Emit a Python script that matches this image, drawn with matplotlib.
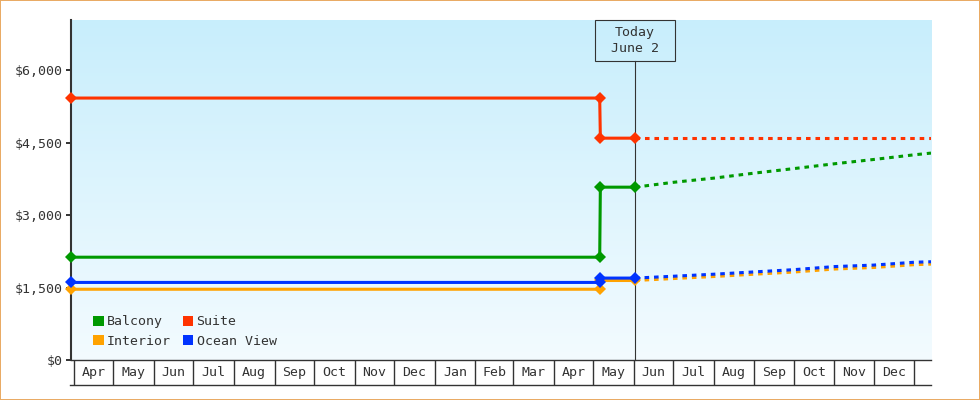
"""Cruise cabin price history and forecast chart."""

import matplotlib

matplotlib.use("Agg")
import matplotlib.dates as mdates
import matplotlib.pyplot as plt
import matplotlib.transforms as mtransforms
import numpy as np
import pandas as pd
from matplotlib.patches import Patch, Rectangle

# ---- data -------------------------------------------------------------
VIEW_START = "2023-03-29 17:00"
VIEW_END = "2025-01-13 17:00"
TODAY = "2024-06-02 00:00"

history_dates = [VIEW_START, "2024-05-06 00:00", "2024-05-06 12:00", TODAY]
forecast_dates = [TODAY, "2024-07-01 00:00", "2024-08-01 00:00", "2024-09-01 00:00",
                  "2024-10-01 00:00", "2024-11-01 00:00", "2024-12-01 00:00",
                  "2025-01-01 00:00", VIEW_END]

balcony_hist = [2127, 2127, 3576, 3576]
interior_hist = [1464, 1464, 1645, 1645]
suite_hist = [5420, 5420, 4590, 4590]
ocean_hist = [1605, 1605, 1695, 1695]

balcony_fc = [3576, 3676, 3763, 3867, 3960, 4060, 4149, 4246, 4281]
interior_fc = [1645, 1685, 1727, 1775, 1820, 1882, 1914, 1972, 1984]
suite_fc = [4590, 4590, 4590, 4590, 4590, 4590, 4590, 4590, 4590]
ocean_fc = [1695, 1733, 1775, 1823, 1869, 1933, 1964, 2023, 2033]

series_names = ["Balcony", "Interior", "Suite", "Ocean View"]
series_colors = ["#009900", "#ffa200", "#ff3300", "#0033ff"]

y_ticks = [0, 1500, 3000, 4500, 6000]
month_labels = ["Apr", "May", "Jun", "Jul", "Aug", "Sep", "Oct", "Nov", "Dec",
                "Jan", "Feb", "Mar", "Apr", "May", "Jun", "Jul", "Aug", "Sep",
                "Oct", "Nov", "Dec"]
FIRST_MONTH = "2023-04-01"

# ---- style ------------------------------------------------------------
INK = "#333333"
FONT = ["DejaVu Sans Mono"]
FS = 9.5
plt.rcParams["font.family"] = FONT


def to_num(dates):
    return mdates.date2num(pd.to_datetime(dates, format="ISO8601"))


fig = plt.figure(figsize=(9.8, 4.0), dpi=100)
ax = fig.add_axes([71 / 980, 40 / 400, 860 / 980, 340 / 400])

# background gradient
grad = np.linspace(0, 1, 256)[:, None]
top = np.array([200, 238, 252]) / 255
bottom = np.array([243, 251, 255]) / 255
img = top[None, None, :] * (1 - grad[:, :, None]) + bottom[None, None, :] * grad[:, :, None]
ax.imshow(img, extent=[0, 1, 0, 1], transform=ax.transAxes, aspect="auto", zorder=0)
ax.patch.set_visible(False)

hist_x = to_num(history_dates)
fc_x = to_num(forecast_dates)
hists = [balcony_hist, interior_hist, suite_hist, ocean_hist]
fcs = [balcony_fc, interior_fc, suite_fc, ocean_fc]

for fc, color in zip(fcs, series_colors):
    ax.plot(fc_x, fc, color=color, lw=2.2, dashes=(1.5, 1.6), zorder=3)
for hist, color in zip(hists, series_colors):
    ax.plot(hist_x, hist, color=color, lw=2.2, marker="D", ms=6, mew=0,
            zorder=4, clip_on=False)

x0, x1 = to_num([VIEW_START, VIEW_END])
ax.set_xlim(x0, x1)
ax.set_ylim(0, 7035)

# y axis
ax.set_yticks(y_ticks)
ax.set_yticklabels([f"${v:,}" for v in y_ticks], fontsize=FS, color=INK)
ax.tick_params(axis="y", length=3.6, width=1.4, color=INK, pad=2.2)
ax.set_xticks([])
for side in ("top", "right"):
    ax.spines[side].set_visible(False)
ax.spines["left"].set_color(INK)
ax.spines["left"].set_linewidth(1.5)
ax.spines["bottom"].set_color(INK)
ax.spines["bottom"].set_linewidth(1.0)

# month cells under the axis
trans = mtransforms.blended_transform_factory(ax.transData, ax.transAxes)
CELL_H = 25 / 340
bounds = mdates.date2num(pd.date_range(FIRST_MONTH, periods=len(month_labels) + 1, freq="MS"))
for b in bounds:
    ax.plot([b, b], [0, -CELL_H], transform=trans, color=INK, lw=1.0,
            clip_on=False, solid_capstyle="butt")
ax.plot([-1 / 860, 1], [-CELL_H, -CELL_H], transform=ax.transAxes, color=INK,
        lw=1.0, clip_on=False)
for lab, a, b in zip(month_labels, bounds[:-1], bounds[1:]):
    ax.text((a + b) / 2, -CELL_H / 2, lab, transform=trans, ha="center",
            va="center", fontsize=FS, color=INK)

# today marker
tx = to_num([TODAY])[0]
BOX_Y = 1 - 40.7 / 340
ax.plot([tx, tx], [0, BOX_Y], transform=trans, color=INK, lw=0.8, zorder=2)
box_w = 80 / (860 / (x1 - x0))
ax.add_patch(Rectangle((tx - box_w / 2, BOX_Y), box_w, 1 - BOX_Y, transform=trans,
                       fill=False, ec=INK, lw=0.8, clip_on=False, zorder=5))
ax.text(tx, (1 + BOX_Y) / 2, "Today\nJune 2", transform=trans, ha="center",
        va="center", fontsize=FS, color=INK, linespacing=1.35, zorder=6)

# legend
handles = [Patch(facecolor=c, edgecolor="none") for c in series_colors]
leg = ax.legend(handles, series_names, ncol=2, loc="lower left",
                bbox_to_anchor=(22 / 860, 12 / 340), frameon=False,
                fontsize=FS, handlelength=0.8, handleheight=0.8,
                handletextpad=0.25, columnspacing=0.9, labelspacing=0.5,
                borderpad=0, borderaxespad=0)
for t in leg.get_texts():
    t.set_color(INK)

# orange frame around the whole image
fig.patches.append(Rectangle((0, 0), 1, 1, transform=fig.transFigure, fill=False,
                             ec="#e9a961", lw=1.4))

fig.savefig("out.png", dpi=100)
